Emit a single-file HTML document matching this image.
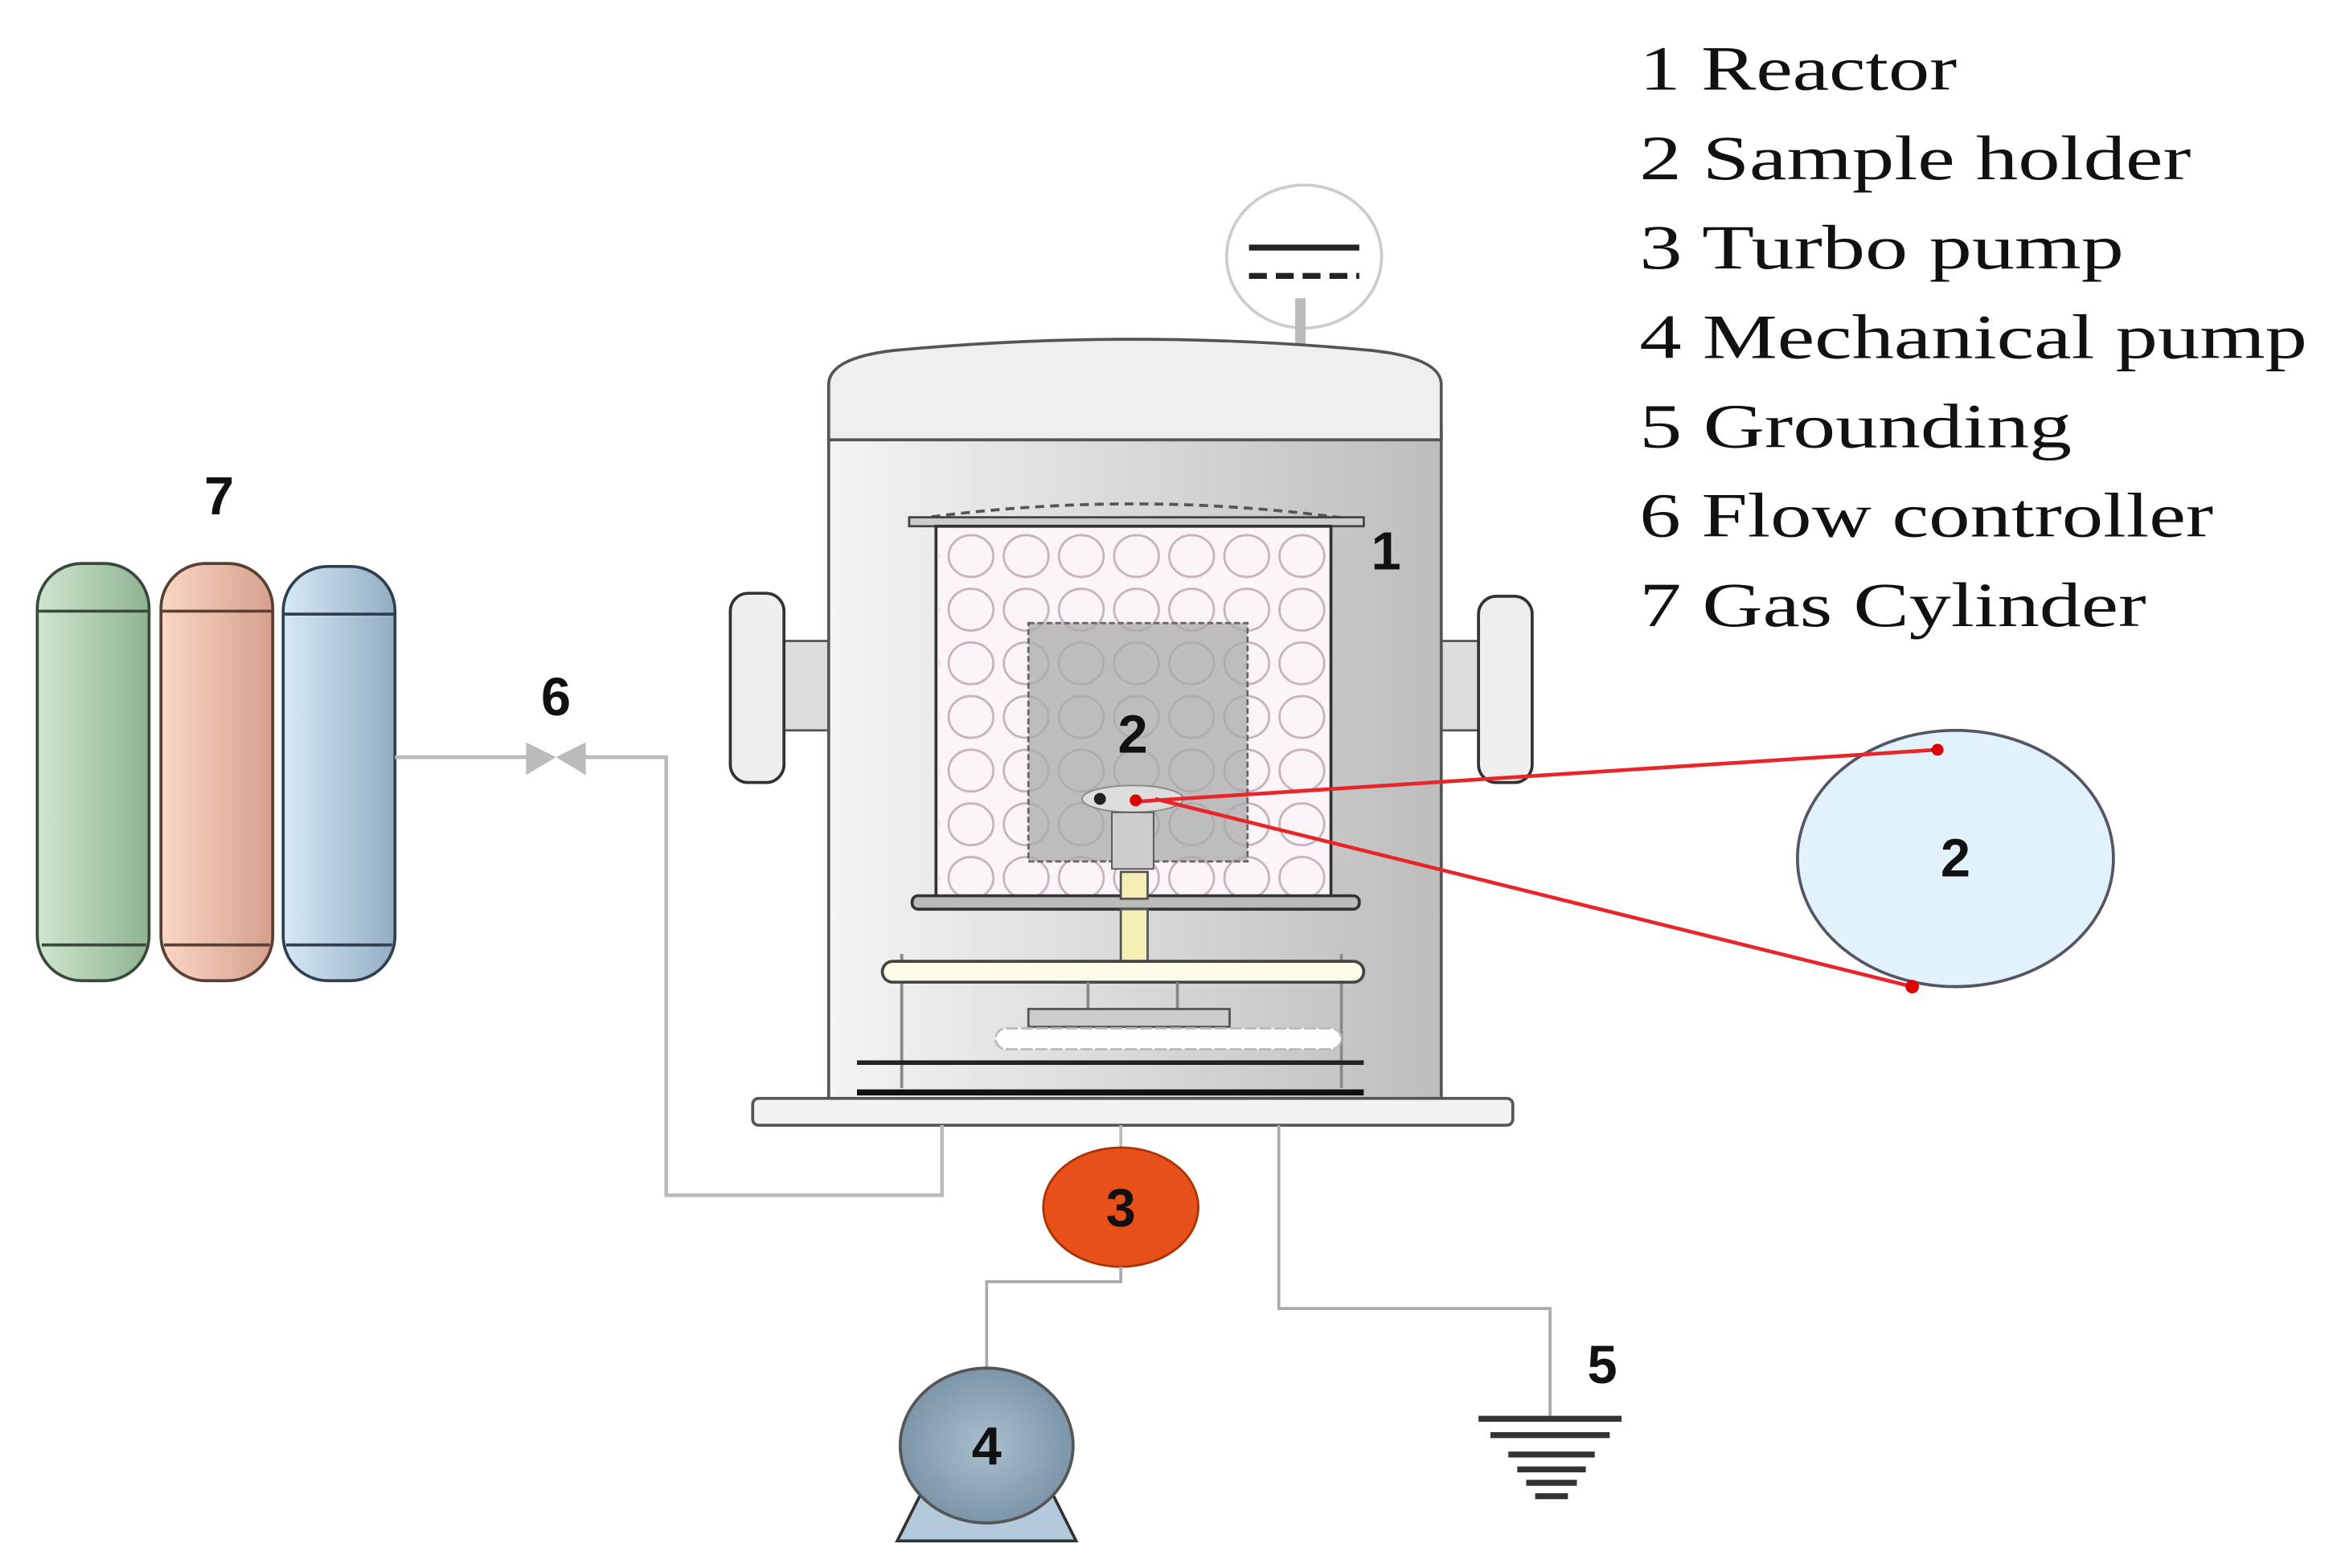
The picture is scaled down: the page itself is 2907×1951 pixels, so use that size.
<!DOCTYPE html>
<html><head><meta charset="utf-8"><style>html,body{margin:0;padding:0;background:#fff}svg{display:block}</style></head>
<body>
<svg width="2907" height="1951" viewBox="0 0 1568 1052" xmlns="http://www.w3.org/2000/svg">
<defs>
<linearGradient id="body" x1="0" x2="1"><stop offset="0" stop-color="#f4f4f4"/><stop offset="1" stop-color="#bdbdbd"/></linearGradient>
<linearGradient id="g1" x1="0" x2="1"><stop offset="0" stop-color="#cfe6cf"/><stop offset="1" stop-color="#8fb393"/></linearGradient>
<linearGradient id="g2" x1="0" x2="1"><stop offset="0" stop-color="#fbd6c4"/><stop offset="1" stop-color="#d4a08c"/></linearGradient>
<linearGradient id="g3" x1="0" x2="1"><stop offset="0" stop-color="#d6eaf7"/><stop offset="1" stop-color="#93adc2"/></linearGradient>
<radialGradient id="p4"><stop offset="0" stop-color="#a8bfcf"/><stop offset="1" stop-color="#7d95a8"/></radialGradient>
<pattern id="circ" x="633" y="355" width="37" height="36" patternUnits="userSpaceOnUse"><ellipse cx="18.5" cy="18" rx="15" ry="14" fill="none" stroke="#c9b2bf" stroke-width="1.5"/></pattern>
</defs>
<rect width="1568" height="1052" fill="#fff"/>
<g font-family="'Liberation Serif',serif" font-size="42" fill="#111">
<text x="1100" y="60" textLength="213" lengthAdjust="spacingAndGlyphs">1 Reactor</text>
<text x="1100" y="120" textLength="370" lengthAdjust="spacingAndGlyphs">2 Sample holder</text>
<text x="1100" y="180" textLength="325" lengthAdjust="spacingAndGlyphs">3 Turbo pump</text>
<text x="1100" y="240" textLength="448" lengthAdjust="spacingAndGlyphs">4 Mechanical pump</text>
<text x="1100" y="300" textLength="290" lengthAdjust="spacingAndGlyphs">5 Grounding</text>
<text x="1100" y="360" textLength="385" lengthAdjust="spacingAndGlyphs">6 Flow controller</text>
<text x="1100" y="420" textLength="340" lengthAdjust="spacingAndGlyphs">7 Gas Cylinder</text>
</g>
<ellipse cx="875" cy="172" rx="52" ry="48" fill="#fff" stroke="#ccc" stroke-width="2"/>
<line x1="838" y1="166" x2="912" y2="166" stroke="#222" stroke-width="4"/>
<line x1="838" y1="185" x2="912" y2="185" stroke="#222" stroke-width="4" stroke-dasharray="12,6"/>
<rect x="869" y="200" width="7" height="38" fill="#bbb"/>
<rect x="522" y="430" width="40" height="60" fill="#ddd" stroke="#555" stroke-width="1.5"/>
<rect x="490" y="398" width="36" height="127" rx="12" fill="#eee" stroke="#333" stroke-width="2"/>
<rect x="960" y="430" width="40" height="60" fill="#ddd" stroke="#555" stroke-width="1.5"/>
<rect x="992" y="400" width="36" height="125" rx="12" fill="#eee" stroke="#333" stroke-width="2"/>
<rect x="556" y="290" width="411" height="450" fill="url(#body)" stroke="#555" stroke-width="2"/>
<path d="M556 295 L556 258 Q556 240 600 235 Q760 220 920 235 Q967 240 967 258 L967 295 Z" fill="#efefef" stroke="#555" stroke-width="2"/>
<path d="M615 348 Q760 328 905 348" fill="none" stroke="#555" stroke-width="2" stroke-dasharray="6,4"/>
<rect x="610" y="347" width="305" height="6" fill="#ccc" stroke="#444" stroke-width="1.5"/>
<rect x="628" y="353" width="265" height="250" fill="#fbf4f8" stroke="#333" stroke-width="2"/>
<rect x="630" y="355" width="261" height="246" fill="url(#circ)"/>
<rect x="690" y="418" width="147" height="160" fill="#aaa" fill-opacity="0.75" stroke="#666" stroke-width="1.5" stroke-dasharray="4,2"/>
<ellipse cx="760" cy="536" rx="34" ry="9" fill="#ddd" stroke="#888"/>
<circle cx="738" cy="536" r="4" fill="#222"/>
<rect x="746" y="545" width="28" height="38" fill="#ccc" stroke="#555"/>
<rect x="612" y="601" width="300" height="9" rx="4" fill="#bbb" stroke="#333" stroke-width="2"/>
<rect x="752" y="610" width="18" height="38" fill="#f3efb5" stroke="#555" stroke-width="1.5"/>
<rect x="752" y="585" width="18" height="18" fill="#f3efb5" stroke="#555" stroke-width="1.5"/>
<line x1="605" y1="640" x2="605" y2="730" stroke="#888" stroke-width="2"/>
<line x1="900" y1="640" x2="900" y2="730" stroke="#888" stroke-width="2"/>
<rect x="592" y="645" width="323" height="14" rx="7" fill="#fbfbe8" stroke="#444" stroke-width="2"/>
<line x1="730" y1="659" x2="730" y2="678" stroke="#888" stroke-width="2"/>
<line x1="790" y1="659" x2="790" y2="678" stroke="#888" stroke-width="2"/>
<rect x="690" y="677" width="135" height="12" fill="#ccc" stroke="#555" stroke-width="1.5"/>
<rect x="668" y="690" width="232" height="14" rx="7" fill="#fff" stroke="#bbb" stroke-width="1.5" stroke-dasharray="8,2"/>
<line x1="575" y1="713" x2="915" y2="713" stroke="#222" stroke-width="3"/>
<line x1="575" y1="733" x2="915" y2="733" stroke="#111" stroke-width="4"/>
<rect x="505" y="737" width="510" height="18" rx="4" fill="#f2f2f2" stroke="#555" stroke-width="2"/>
<ellipse cx="1312" cy="576" rx="106" ry="86" fill="#e2f2fb" stroke="#556" stroke-width="2"/>
<line x1="760" y1="538" x2="1300" y2="503" stroke="#e8262a" stroke-width="2.5"/>
<line x1="775" y1="536" x2="1283" y2="662" stroke="#e8262a" stroke-width="2.5"/>
<circle cx="1300" cy="503" r="4" fill="#d00"/><circle cx="1283" cy="662" r="4.5" fill="#d00"/><circle cx="762" cy="537" r="4" fill="#d00"/>
<g stroke="#3a4a3a" stroke-width="2">
<rect x="25" y="378" width="75" height="280" rx="30" fill="url(#g1)"/>
<rect x="108" y="378" width="75" height="280" rx="30" fill="url(#g2)" stroke="#5a3f35"/>
<rect x="190" y="380" width="75" height="278" rx="30" fill="url(#g3)" stroke="#2f4050"/>
<line x1="25" y1="410" x2="100" y2="410"/><line x1="108" y1="410" x2="183" y2="410" stroke="#5a3f35"/><line x1="190" y1="412" x2="265" y2="412" stroke="#2f4050"/>
<line x1="28" y1="634" x2="98" y2="634"/><line x1="110" y1="634" x2="181" y2="634" stroke="#5a3f35"/><line x1="192" y1="634" x2="263" y2="634" stroke="#2f4050"/>
</g>
<polyline points="265,508 355,508" fill="none" stroke="#bbb" stroke-width="2.5"/>
<polyline points="390,508 447,508 447,802 632,802 632,755" fill="none" stroke="#bbb" stroke-width="2.5"/>
<polygon points="353,498 373,508 353,520" fill="#bbb"/><polygon points="393,498 373,508 393,520" fill="#bbb"/>
<line x1="752" y1="755" x2="752" y2="772" stroke="#bbb" stroke-width="2"/>
<ellipse cx="752" cy="810" rx="52" ry="40" fill="#e8501a" stroke="#aa3300" stroke-width="1.5"/>
<polyline points="752,850 752,860 662,860 662,918" fill="none" stroke="#aaa" stroke-width="2"/>
<polygon points="620,998 704,998 722,1034 602,1034" fill="#b2cadb" stroke="#333" stroke-width="2"/>
<ellipse cx="662" cy="970" rx="58" ry="52" fill="url(#p4)" stroke="#555" stroke-width="2"/>
<polyline points="858,755 858,878 1040,878 1040,950" fill="none" stroke="#aaa" stroke-width="2"/>
<g stroke="#333" stroke-width="4">
<line x1="992" y1="952" x2="1088" y2="952"/>
<line x1="1000" y1="963" x2="1080" y2="963"/>
<line x1="1012" y1="976" x2="1070" y2="976"/>
<line x1="1018" y1="986" x2="1064" y2="986"/>
<line x1="1024" y1="995" x2="1058" y2="995"/>
<line x1="1030" y1="1004" x2="1052" y2="1004"/>
</g>
<g font-family="'Liberation Sans',sans-serif" font-weight="bold" font-size="36" fill="#111" text-anchor="middle">
<text x="147" y="345">7</text>
<text x="373" y="480">6</text>
<text x="752" y="823">3</text>
<text x="662" y="983">4</text>
<text x="1075" y="928">5</text>
<text x="930" y="382">1</text>
<text x="760" y="505">2</text>
<text x="1312" y="588">2</text>
</g>
</svg>
</body></html>
